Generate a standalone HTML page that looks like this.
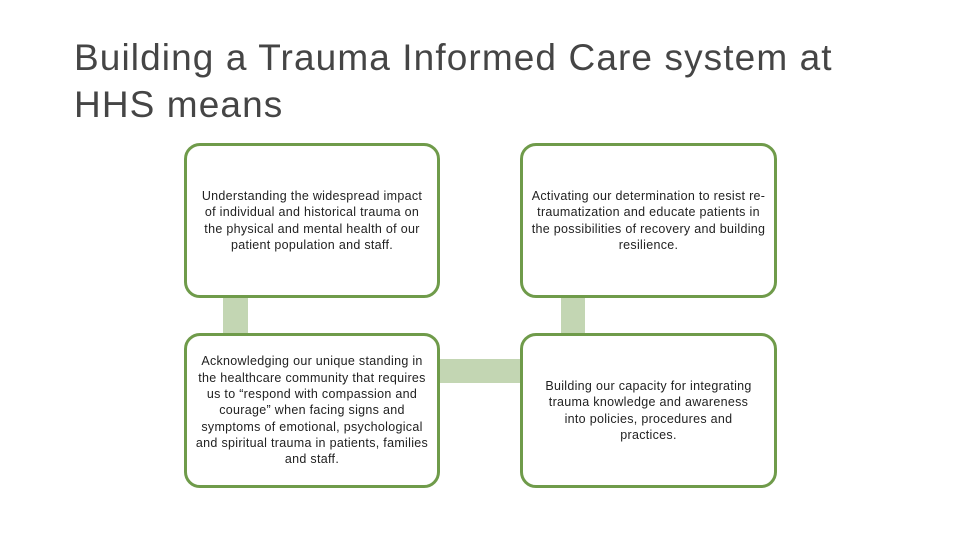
<!DOCTYPE html>
<html><head><meta charset="utf-8"><style>
body{margin:0;width:960px;height:540px;background:#fff;position:relative;overflow:hidden;font-family:"Liberation Sans",sans-serif}
.t{position:absolute;left:74px;top:34px;font-size:37px;line-height:47px;color:#454545;letter-spacing:1.1px}
.b{position:absolute;box-sizing:border-box;border:3px solid #6f9b4a;border-radius:16px;background:#fff;display:flex;align-items:center;justify-content:center;text-align:center;font-size:12.5px;line-height:16.3px;letter-spacing:0.3px;color:#222;padding:0 8px}
.c{position:absolute;background:#c3d6b3}
</style></head><body>
<div class="t">Building a Trauma Informed Care system at<br>HHS means</div>
<div class="c" style="left:223px;top:295px;width:25px;height:40px"></div>
<div class="c" style="left:561px;top:295px;width:24px;height:40px"></div>
<div class="c" style="left:436px;top:359px;width:88px;height:24px"></div>
<div class="b" style="left:184px;top:143px;width:256px;height:155px">Understanding the widespread impact of individual and historical trauma on the physical and mental health of our patient population and staff.</div>
<div class="b" style="left:520px;top:143px;width:257px;height:155px">Activating our determination to resist re-traumatization and educate patients in the possibilities of recovery and building resilience.</div>
<div class="b" style="left:184px;top:333px;width:256px;height:155px">Acknowledging our unique standing in the healthcare community that requires us to “respond with compassion and courage” when facing signs and symptoms of emotional, psychological and spiritual trauma in patients, families and staff.</div>
<div class="b" style="left:520px;top:333px;width:257px;height:155px;padding:0 16px">Building our capacity for integrating trauma knowledge and awareness into policies, procedures and practices.</div>
</body></html>
